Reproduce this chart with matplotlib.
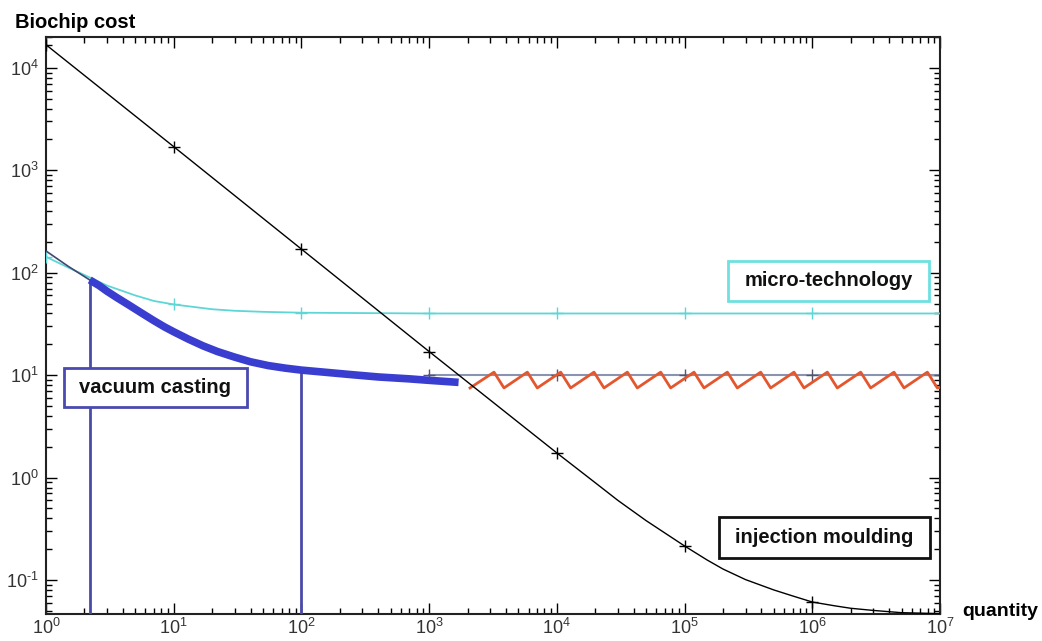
import matplotlib
matplotlib.use("Agg")
import matplotlib.pyplot as plt
from matplotlib.patches import Rectangle
from matplotlib.ticker import FuncFormatter
import math

plt.rcParams['font.family'] = ['Liberation Sans', 'DejaVu Sans']
plt.rcParams['mathtext.fontset'] = 'custom'
plt.rcParams['mathtext.rm'] = 'Liberation Sans'
plt.rcParams['mathtext.it'] = 'Liberation Sans:italic'
plt.rcParams['mathtext.bf'] = 'Liberation Sans:bold'

# injection moulding (black)
inj_q = [1, 10, 100, 1e3, 1e4, 2e4, 3e4, 5e4, 1e5, 1.5e5, 2e5, 3e5, 5e5, 7e5,
         1e6, 1.5e6, 2e6, 3e6, 5e6, 1e7]
inj_cost = [16800, 1700, 170, 17, 1.74, 0.89, 0.60, 0.38, 0.215, 0.157, 0.128, 0.101,
            0.080, 0.070, 0.061, 0.056, 0.053, 0.0505, 0.048, 0.047]

# micro-technology (cyan)
micro_q = [1, 1.5, 2, 3, 5, 7, 10, 15, 20, 30, 50, 100, 1e3, 1e4, 1e5, 1e6, 1e7]
micro_cost = [143, 112, 95, 75, 60, 53, 49, 46, 44, 42.5, 41.5, 40.7, 40, 40, 40, 40, 40]

# vacuum casting (blue), thin start then thick part
vac_thin_q = [1, 1.5, 2.2]
vac_thin_cost = [163, 115, 85]
vac_q = [2.2, 2.6, 3, 3.6, 4.5, 5.5, 7, 8.5, 10, 13, 17, 22, 30, 40, 55, 75, 100,
         150, 250, 400, 700, 1000, 1700]
vac_cost = [85, 75, 66, 57, 48, 41, 34, 29.5, 26.5, 22.5, 19.3, 17, 15, 13.5, 12.4,
            11.7, 11.2, 10.7, 10.1, 9.6, 9.2, 8.9, 8.5]

# limits of the vacuum casting range
vac_range_q = [2.2, 100]
vac_range_cost = [85, 11.2]

# injection moulding with tool renewal (gray reference and red sawtooth)
ref_q = [1e3, 1e4, 1e5, 1e6, 1e7]
ref_cost = [10, 10, 10, 10, 10]
saw_q = [2090,
         3220, 3855, 5875, 7030, 10715, 12820, 19540, 23390, 35650, 42660,
         65010, 77800, 118600, 141900, 216300, 258800, 394500, 472000,
         719400, 861000, 1312000, 1570000, 2393000, 2864000, 4365000, 5224000,
         7962000, 9530000, 1e7]
saw_cost = [7.5,
            10.7, 7.5, 10.7, 7.5, 10.7, 7.5, 10.7, 7.5, 10.7, 7.5,
            10.7, 7.5, 10.7, 7.5, 10.7, 7.5, 10.7, 7.5,
            10.7, 7.5, 10.7, 7.5, 10.7, 7.5, 10.7, 7.5,
            10.7, 7.5, 7.6]


def dec_label(v, pos):
    e = int(round(math.log10(v)))
    s = str(e).replace('-', '\u2010')
    return '$\\mathdefault{10^{%s}}$' % s


fig = plt.figure(figsize=(10.42, 6.41), dpi=100)
ax = fig.add_axes([46/1042, 27/641, 894/1042, 577/641])
ax.set_xscale('log')
ax.set_yscale('log')

ax.plot(ref_q, ref_cost, color='#8a94b0', lw=1.5, marker='+', ms=8, mec='#555566', zorder=2)
ax.plot(saw_q, saw_cost, color='#e4572e', lw=2, zorder=3)
ax.plot(micro_q, micro_cost, color='#5fd6d6', lw=1.3, marker='+', ms=8,
        markevery=[0, 6, 11, 12, 13, 14, 15], zorder=3)
ax.plot(inj_q, inj_cost, color='black', lw=1, marker='+', ms=8,
        markevery=[0, 1, 2, 3, 4, 8, 14], zorder=4)
ax.plot(vac_thin_q, vac_thin_cost, color='#404870', lw=1.2, zorder=3)
ax.plot(vac_q, vac_cost, color='#3a3ed0', lw=5.5, solid_capstyle='butt', zorder=5)
for q, c in zip(vac_range_q, vac_range_cost):
    ax.plot([q, q], [0.01, c], color='#4a4aa8', lw=2, zorder=4)

ax.set_xlim(1, 1e7)
ax.set_ylim(0.0466, 2.0e4)
ax.xaxis.set_major_formatter(FuncFormatter(dec_label))
ax.yaxis.set_major_formatter(FuncFormatter(dec_label))

ax.tick_params(which='both', direction='in', top=True, right=True,
               labelsize=13, labelcolor='#333333')
ax.tick_params(axis='x', pad=3)
ax.tick_params(axis='y', pad=5)
ax.tick_params(which='major', length=8, width=1)
ax.tick_params(which='minor', length=4, width=1)
for s in ax.spines.values():
    s.set_linewidth(1.5)
    s.set_color('#222222')

# label boxes
boxes = [
    (0.763, 0.5425, 0.2248, 0.0693, '#6fe0e0', 'micro-technology'),
    (0.0201, 0.3588, 0.2047, 0.0676, '#4a4ab0', 'vacuum casting'),
    (0.7528, 0.0971, 0.2360, 0.0711, '#111111', 'injection moulding'),
]
for x0, y0, w, h, ec, txt in boxes:
    ax.add_patch(Rectangle((x0, y0), w, h, transform=ax.transAxes,
                           facecolor='white', edgecolor=ec, lw=2, zorder=10))
    ax.text(x0 + w/2, y0 + h/2, txt, transform=ax.transAxes, ha='center', va='center',
            fontsize=14.5, fontweight='bold', color='#111111', zorder=11)

fig.text(15/1042, 1 - 22/641, 'Biochip cost', fontsize=14.5, fontweight='bold',
         ha='left', va='center')
fig.text(962/1042, 1 - 612/641, 'quantity', fontsize=14, fontweight='bold',
         ha='left', va='center')

fig.savefig('out.png', dpi=100, facecolor='white')
